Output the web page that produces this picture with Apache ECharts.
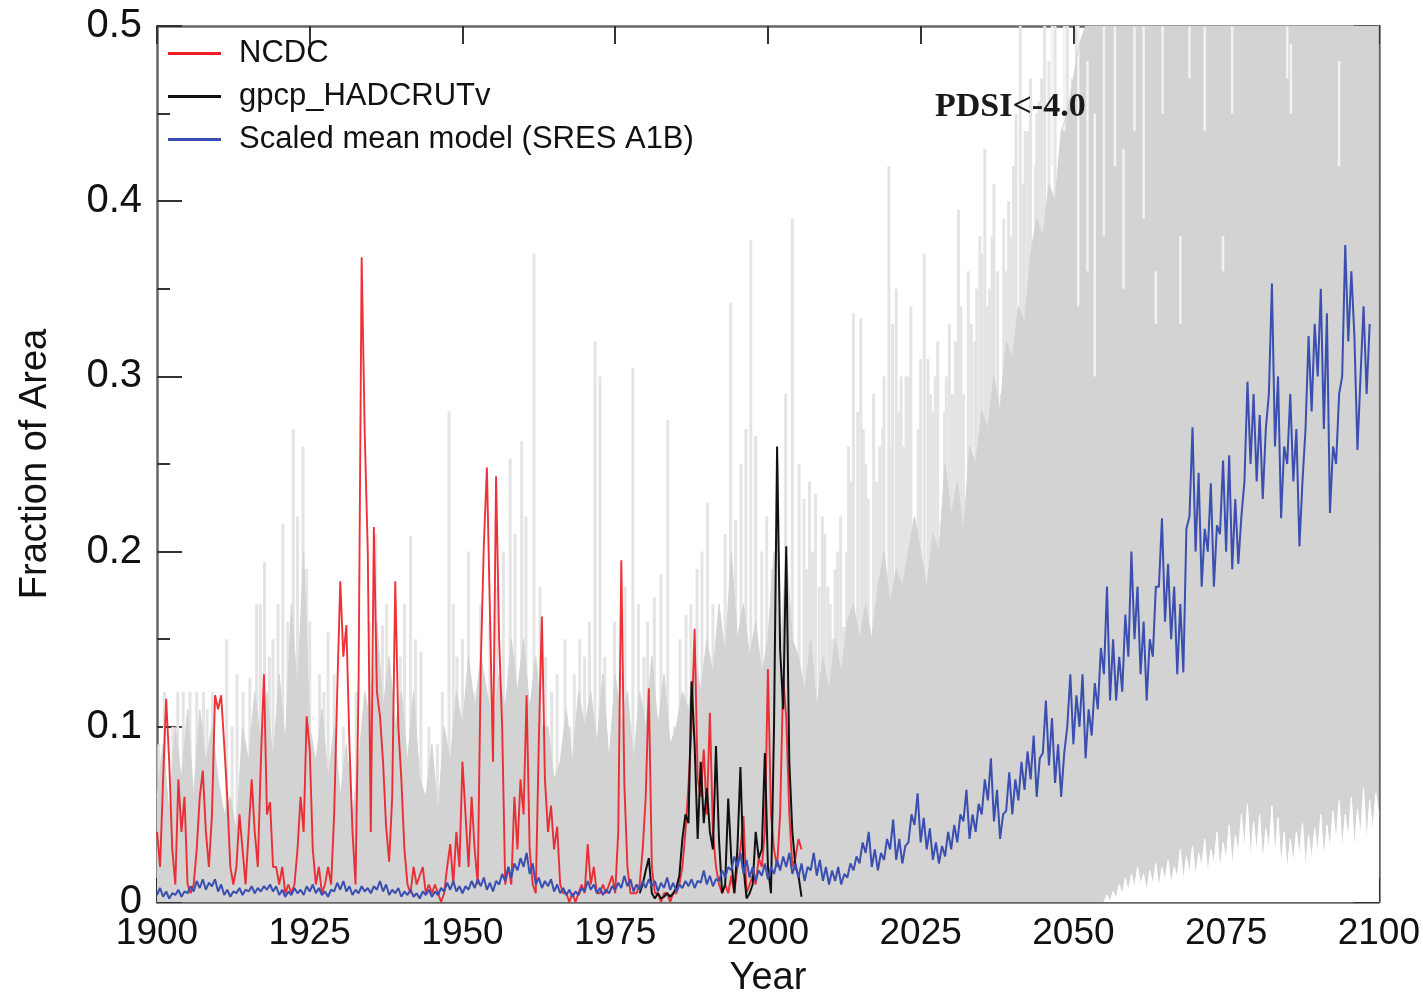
<!DOCTYPE html>
<html><head><meta charset="utf-8">
<script src="https://cdn.jsdelivr.net/npm/echarts@6/dist/echarts.min.js"></script>
<style>html,body{margin:0;padding:0;background:#fff}#c{width:1423px;height:1003px}</style>
</head><body><div id="c"></div>
<script>
// ---------- data ----------
const seriesNames = ['NCDC', 'gpcp_HADCRUTv', 'Scaled mean model (SRES A1B)'];
const xTicks = [1900, 1925, 1950, 1975, 2000, 2025, 2050, 2075, 2100];
const yTicks = [0, 0.1, 0.2, 0.3, 0.4, 0.5];

// NCDC observed fraction, half-year steps from 1900.0
const ncdcStart = 1900, halfStep = 0.5;
const ncdcValues = [
0.04,0.02,0.07,0.116,0.08,0.03,0.01,0.07,0.04,0.06,
0.01,0.005,0.01,0.03,0.06,0.075,0.04,0.02,0.05,0.118,
0.11,0.118,0.09,0.06,0.02,0.01,0.02,0.05,0.03,0.01,
0.04,0.07,0.04,0.02,0.08,0.13,0.05,0.057,0.02,0.02,
0.01,0.02,0.005,0.01,0.005,0.01,0.03,0.06,0.04,0.106,
0.087,0.03,0.01,0.02,0.005,0.01,0.02,0.01,0.05,0.12,
0.183,0.14,0.158,0.09,0.04,0.01,0.126,0.368,0.268,0.2,
0.04,0.214,0.12,0.106,0.08,0.043,0.023,0.06,0.183,0.1,
0.07,0.03,0.01,0.005,0.02,0.01,0.015,0.02,0.005,0.01,
0.005,0.01,0.005,0,0.005,0.02,0.033,0.01,0.04,0.02,
0.08,0.05,0.02,0.06,0.03,0.01,0.136,0.204,0.248,0.165,
0.08,0.243,0.15,0.1,0.01,0.02,0.01,0.06,0.03,0.07,
0.05,0.118,0.03,0.01,0.005,0.092,0.163,0.07,0.04,0.055,
0.03,0.043,0.01,0.005,0.005,0,0.005,0,0.005,0.01,
0.005,0.033,0.01,0.02,0.005,0.005,0.01,0.005,0.01,0.015,
0.005,0.04,0.195,0.067,0.02,0.005,0.005,0.005,0.01,0.03,
0.06,0.122,0.02,0.005,0.005,0,0.005,0.005,0,0.005,
0.005,0.01,0.02,0.04,0.067,0.1,0.156,0.07,0.06,0.087,
0.05,0.108,0.04,0.02,0.01,0.005,0.01,0.005,0.015,0.005,
0.02,0.03,0.049,0.005,0.01,0.015,0.01,0.025,0.02,0.04,
0.133,0.05,0.03,0.02,0.05,0.128,0.105,0.05,0.02,0.025,
0.036,0.03
];

// gpcp_HADCRUTv, half-year steps from 1979.0
const gpcpStart = 1979;
const gpcpValues = [
0.005,0.01,0.018,0.025,0.005,0.002,0.005,0.002,0.003,0.005,
0.003,0.005,0.008,0.015,0.036,0.05,0.045,0.126,0.09,0.036,
0.08,0.045,0.065,0.04,0.03,0.089,0.035,0.005,0.01,0.059,
0.025,0.005,0.03,0.077,0.02,0.002,0.005,0.01,0.04,0.025,
0.03,0.085,0.02,0.005,0.1,0.26,0.144,0.11,0.203,0.08,
0.04,0.02,0.015,0.003
];

// Scaled mean model, half-year steps from 1900.0
const modelStart = 1900;
const modelValues = [
0.004,0.008,0.003,0.006,0.002,0.005,0.004,0.007,0.003,0.006,
0.005,0.009,0.006,0.012,0.008,0.013,0.007,0.011,0.009,0.013,
0.006,0.01,0.004,0.007,0.003,0.006,0.005,0.008,0.004,0.007,
0.006,0.009,0.005,0.008,0.006,0.009,0.007,0.01,0.006,0.009,
0.004,0.007,0.003,0.006,0.004,0.008,0.005,0.007,0.004,0.009,
0.006,0.01,0.005,0.008,0.004,0.006,0.003,0.007,0.006,0.011,
0.007,0.012,0.006,0.009,0.004,0.007,0.005,0.009,0.006,0.008,
0.005,0.009,0.007,0.012,0.006,0.01,0.004,0.007,0.005,0.008,
0.003,0.006,0.004,0.007,0.003,0.005,0.002,0.006,0.004,0.007,
0.003,0.006,0.004,0.008,0.006,0.011,0.007,0.012,0.006,0.009,
0.005,0.009,0.007,0.012,0.008,0.013,0.009,0.014,0.007,0.011,
0.006,0.012,0.01,0.016,0.012,0.02,0.014,0.022,0.018,0.025,
0.02,0.028,0.016,0.022,0.01,0.014,0.008,0.012,0.009,0.013,
0.006,0.01,0.005,0.008,0.004,0.007,0.003,0.006,0.004,0.008,
0.006,0.012,0.007,0.01,0.005,0.008,0.004,0.007,0.005,0.009,
0.007,0.011,0.008,0.015,0.009,0.013,0.006,0.01,0.007,0.012,
0.008,0.013,0.009,0.012,0.006,0.011,0.008,0.014,0.007,0.011,
0.006,0.01,0.008,0.012,0.009,0.013,0.008,0.012,0.011,0.018,
0.01,0.015,0.009,0.013,0.012,0.018,0.014,0.02,0.018,0.026,
0.02,0.028,0.016,0.024,0.014,0.02,0.012,0.018,0.015,0.022,
0.013,0.02,0.016,0.024,0.018,0.026,0.02,0.028,0.016,0.022,
0.014,0.022,0.012,0.02,0.018,0.028,0.015,0.024,0.012,0.02,
0.01,0.018,0.012,0.02,0.01,0.016,0.014,0.022,0.018,0.026,
0.022,0.034,0.028,0.04,0.02,0.03,0.018,0.028,0.024,0.036,
0.03,0.047,0.024,0.036,0.022,0.032,0.034,0.05,0.044,0.062,
0.034,0.048,0.03,0.042,0.024,0.034,0.022,0.032,0.026,0.04,
0.03,0.044,0.034,0.05,0.046,0.064,0.036,0.05,0.04,0.056,
0.05,0.07,0.058,0.082,0.046,0.064,0.036,0.05,0.052,0.074,
0.05,0.07,0.058,0.08,0.064,0.086,0.07,0.095,0.06,0.082,
0.085,0.115,0.078,0.105,0.068,0.09,0.06,0.085,0.1,0.13,
0.09,0.118,0.1,0.13,0.082,0.11,0.095,0.125,0.11,0.145,
0.13,0.18,0.115,0.15,0.115,0.14,0.12,0.164,0.14,0.2,
0.15,0.18,0.13,0.16,0.115,0.15,0.14,0.18,0.18,0.219,
0.16,0.193,0.15,0.18,0.13,0.17,0.131,0.213,0.22,0.271,
0.2,0.245,0.18,0.213,0.2,0.239,0.18,0.215,0.21,0.252,
0.2,0.255,0.19,0.23,0.193,0.22,0.24,0.297,0.25,0.29,
0.24,0.278,0.23,0.27,0.29,0.353,0.26,0.3,0.219,0.26,
0.25,0.29,0.24,0.27,0.203,0.24,0.27,0.323,0.28,0.33,
0.3,0.35,0.27,0.336,0.222,0.26,0.25,0.29,0.3,0.375,
0.32,0.36,0.323,0.258,0.3,0.34,0.29,0.33
];

// Model ensemble: solid (darker) spread upper edge, annual from 1900
const spreadStart = 1900, yearStep = 1;
const spreadTop = [
0.06,0.09,0.05,0.1,0.07,0.11,0.06,0.11,0.08,0.1,
0.07,0.05,0.06,0.04,0.1,0.08,0.12,0.09,0.12,0.08,
0.13,0.09,0.17,0.12,0.2,0.1,0.08,0.11,0.07,0.1,
0.06,0.09,0.05,0.08,0.12,0.1,0.16,0.11,0.14,0.1,
0.12,0.08,0.12,0.07,0.06,0.09,0.05,0.1,0.08,0.12,
0.1,0.14,0.11,0.14,0.12,0.1,0.13,0.11,0.15,0.12,
0.15,0.11,0.14,0.1,0.1,0.07,0.08,0.11,0.08,0.12,
0.1,0.12,0.09,0.13,0.08,0.13,0.1,0.12,0.08,0.12,
0.1,0.14,0.1,0.13,0.09,0.1,0.12,0.11,0.14,0.12,
0.15,0.13,0.17,0.14,0.2,0.15,0.17,0.14,0.16,0.13,
0.15,0.2,0.14,0.2,0.15,0.14,0.12,0.15,0.11,0.14,
0.12,0.15,0.13,0.16,0.17,0.15,0.17,0.15,0.18,0.2,
0.17,0.19,0.18,0.2,0.22,0.2,0.18,0.21,0.2,0.25,
0.22,0.24,0.21,0.26,0.25,0.28,0.27,0.3,0.28,0.32,
0.31,0.34,0.33,0.37,0.39,0.38,0.41,0.4,0.44,0.45,
0.47,0.49,0.5,0.5,0.5,0.5,0.5,0.5,0.5,0.5,
0.5,0.5,0.5,0.5,0.5,0.5,0.5,0.5,0.5,0.5,
0.5,0.5,0.5,0.5,0.5,0.5,0.5,0.5,0.5,0.5,
0.5,0.5,0.5,0.5,0.5,0.5,0.5,0.5,0.5,0.5,
0.5,0.5,0.5,0.5,0.5,0.5,0.5,0.5,0.5,0.5,
0.5
];

// Model ensemble: individual high months (light spikes)
const spikeYears = [
1900.3,1901.2,1902.6,1903.4,1904.3,1905.4,1906.5,1907.6,1908.2,1909.1,1911.4,1912.3,1913.1,1914.1,1915.2,1916.3,1916.9,1917.6,1918.4,1919.0,
1919.8,1920.6,1921.4,1922.3,1923.0,1923.9,1924.5,1925.0,1926.6,1927.3,1928.0,1929.0,1930.5,1931.5,1932.6,1934.8,1935.8,1936.9,1937.6,1938.3,
1939.8,1940.5,1941.5,1942.3,1943.2,1944.5,1945.9,1946.7,1947.8,1948.5,1949.1,1950.0,1951.0,1951.8,1953.0,1954.5,1955.6,1956.7,1957.8,1958.6,
1959.7,1960.4,1961.7,1962.7,1963.6,1964.6,1965.5,1966.8,1967.6,1968.3,1969.2,1970.0,1970.8,1971.7,1972.5,1973.3,1974.9,1975.8,1976.6,1977.9,
1978.8,1979.7,1980.3,1981.4,1982.5,1983.6,1984.7,1985.6,1986.6,1987.4,1988.4,1989.2,1990.1,1991.0,1992.0,1993.0,1993.9,1994.7,1995.6,1996.4,
1997.2,1998.0,1999.0,1999.8,2000.7,2001.6,2002.9,2004.0,2005.1,2005.9,2006.8,2007.8,2008.9,2009.8,2010.6,2011.4,2012.4,2013.2,2014.0,2014.7,
2015.2,2016.0,2016.4,2017.3,2018.3,2019.0,2019.8,2020.4,2021.0,2021.8,2022.6,2023.4,2024.1,2025.0,2025.6,2026.2,2027.0,2027.8,2028.4,2029.2,
2030.2,2031.2,2032.0,2032.8,2033.9,2034.7,2035.5,2036.3,2037.0,2038.2,2039.0,2039.8,2040.6,2041.3,2042.1,2043.0,2043.8,2044.4,2045.3,2046.0,
2047.0,2048.1,2049.0,2049.8,2050.5,
2006.3,2007.3,2008.4,2009.3,2010.2,2011.0,2011.9,2012.9,2013.6,2015.6,2017.8,2018.8,2020.0,2021.4,2022.2,2023.0,2024.6,2026.6,2027.4,2028.9,
2029.7,2030.7,2031.6,2033.3,2034.2,2035.0,2035.9,2036.7,2037.6,2038.6,2039.4,2040.2,2041.7,2042.6,2044.0,2044.8
];
const spikeTops = [
0.09,0.12,0.1,0.12,0.12,0.12,0.12,0.12,0.11,0.12,0.15,0.1,0.13,0.12,0.128,0.17,0.17,0.194,0.14,0.15,
0.17,0.216,0.16,0.27,0.22,0.26,0.19,0.16,0.13,0.12,0.154,0.13,0.1,0.08,0.12,0.16,0.21,0.158,0.17,0.11,
0.14,0.17,0.209,0.15,0.143,0.1,0.09,0.12,0.28,0.17,0.14,0.15,0.2,0.12,0.17,0.16,0.18,0.2,0.253,0.21,
0.263,0.22,0.37,0.18,0.14,0.12,0.13,0.15,0.1,0.13,0.15,0.14,0.16,0.32,0.3,0.14,0.16,0.13,0.18,0.305,
0.17,0.14,0.16,0.174,0.187,0.275,0.1,0.15,0.164,0.17,0.19,0.2,0.228,0.17,0.14,0.21,0.342,0.218,0.25,0.27,
0.378,0.266,0.2,0.22,0.19,0.25,0.29,0.39,0.25,0.23,0.24,0.233,0.22,0.18,0.15,0.2,0.157,0.26,0.336,0.28,
0.333,0.25,0.23,0.29,0.26,0.3,0.42,0.33,0.35,0.3,0.3,0.34,0.18,0.31,0.37,0.31,0.28,0.32,0.16,0.3,
0.29,0.395,0.29,0.36,0.32,0.38,0.43,0.35,0.41,0.29,0.36,0.38,0.45,0.5,0.44,0.47,0.42,0.457,0.5,0.48,
0.5,0.415,0.5,0.47,0.5,
0.19,0.2,0.18,0.21,0.17,0.19,0.22,0.2,0.24,0.27,0.24,0.27,0.26,0.28,0.26,0.3,0.27,0.29,0.3,0.28,
0.33,0.32,0.34,0.33,0.35,0.37,0.34,0.38,0.36,0.39,0.4,0.42,0.41,0.44,0.45,0.47
];

// Lighter streaks inside the saturated spread (year, bottom, top)
const streakYears   = [2046.5,2048.5,2050.8,2052.3,2053.5,2055.0,2056.8,2058.2,2060.0,2061.5,2063.5,2064.6,2067.5,2069.0,2071.5,2074.5,2076.0,2085.0,2085.6,2093.5];
const streakBottoms = [0.42,0.44,0.34,0.36,0.3,0.38,0.42,0.35,0.44,0.39,0.33,0.45,0.33,0.47,0.44,0.36,0.45,0.47,0.45,0.42];
const streakTops    = [0.5,0.5,0.5,0.48,0.45,0.5,0.5,0.43,0.5,0.5,0.36,0.5,0.38,0.5,0.5,0.38,0.5,0.5,0.49,0.48];

// Lower edge of the spread (white gap below), half-year steps from 2055.0
const lowerStart = 2055;
const lowerEdge = [
0,0.004,0,0.006,0.002,0.01,0.004,0.014,0.006,0.016,
0.008,0.02,0.01,0.016,0.006,0.018,0.01,0.022,0.008,0.02,
0.012,0.024,0.01,0.02,0.014,0.03,0.012,0.026,0.016,0.032,
0.014,0.028,0.02,0.036,0.016,0.03,0.022,0.04,0.018,0.034,
0.024,0.044,0.02,0.038,0.028,0.05,0.03,0.056,0.024,0.046,
0.028,0.05,0.022,0.042,0.03,0.055,0.026,0.048,0.02,0.04,
0.018,0.036,0.022,0.04,0.026,0.045,0.02,0.038,0.024,0.042,
0.028,0.05,0.024,0.044,0.03,0.052,0.034,0.058,0.03,0.05,
0.036,0.06,0.03,0.053,0.038,0.065,0.034,0.058,0.04,0.062,
0.05
];

// ---------- build ----------
const pairs = (start, step, vals) => vals.map((v, i) => [start + i * step, v]);
function vline(color, width) {
  return function (params, api) {
    const p0 = api.coord([api.value(0), api.value(1)]);
    const p1 = api.coord([api.value(0), api.value(2)]);
    return { type: 'line', shape: { x1: p0[0], y1: p0[1], x2: p1[0], y2: p1[1] },
             style: { stroke: color, lineWidth: width } };
  };
}
const FONT = '"Liberation Sans", Arial, sans-serif';
const frame = { show: true, onZero: false, lineStyle: { color: '#666', width: 2.5 } };

const chart = echarts.init(document.getElementById('c'));
chart.setOption({
  animation: false,
  backgroundColor: '#fff',
  grid: { left: 157, right: 39, top: 26, bottom: 100 },
  legend: {
    data: seriesNames, left: 163, top: 33, orient: 'vertical',
    icon: 'rect', itemWidth: 53, itemHeight: 3, itemGap: 12,
    textStyle: { fontSize: 31, color: '#111', fontFamily: FONT, padding: [0, 0, 0, 13] }
  },
  graphic: [{ type: 'text', left: 935, top: 90, z: 100,
    style: { text: 'PDSI<-4.0', font: 'bold 34px "Liberation Serif", "Times New Roman", serif', fill: '#1a1a1a' } }],
  xAxis: [
    { type: 'value', min: xTicks[0], max: xTicks[xTicks.length - 1], interval: 25, position: 'bottom',
      axisLine: frame, axisTick: { inside: true, length: 24, lineStyle: { color: '#333', width: 2 } },
      axisLabel: { fontSize: 37, color: '#111', fontFamily: FONT, margin: 13, formatter: v => String(v) },
      splitLine: { show: false },
      name: 'Year', nameLocation: 'middle', nameGap: 58,
      nameTextStyle: { fontSize: 38, color: '#111', fontFamily: FONT } },
    { type: 'value', min: xTicks[0], max: xTicks[xTicks.length - 1], interval: 25, position: 'top',
      axisLine: frame, axisTick: { inside: true, length: 18, lineStyle: { color: '#333', width: 2 } },
      axisLabel: { show: false }, splitLine: { show: false } }
  ],
  yAxis: [
    { type: 'value', min: yTicks[0], max: yTicks[yTicks.length - 1], interval: 0.1, position: 'left',
      axisLine: frame, axisTick: { inside: true, length: 25, lineStyle: { color: '#333', width: 2 } },
      minorTick: { show: true, splitNumber: 2, length: 13, lineStyle: { color: '#333', width: 2 } },
      axisLabel: { fontSize: 40, color: '#111', fontFamily: FONT, margin: 15,
        formatter: v => (v === 0 ? '0' : v.toFixed(1)) },
      splitLine: { show: false },
      name: 'Fraction of Area', nameLocation: 'middle', nameGap: 102,
      nameTextStyle: { fontSize: 38, color: '#111', fontFamily: FONT } },
    { type: 'value', min: yTicks[0], max: yTicks[yTicks.length - 1], interval: 0.1, position: 'right',
      axisLine: frame, axisTick: { inside: true, length: 25, lineStyle: { color: '#333', width: 2 } },
      minorTick: { show: true, splitNumber: 2, length: 13, lineStyle: { color: '#333', width: 2 } },
      axisLabel: { show: false }, splitLine: { show: false } }
  ],
  series: [
    { name: 'spikes', type: 'custom', silent: true, clip: true, z: 1,
      renderItem: vline('#e4e4e4', 3), encode: { x: 0, y: [1, 2] },
      data: spikeYears.map((y, i) => [y, 0, spikeTops[i]]) },
    { name: 'spread', type: 'line', silent: true, symbol: 'none', z: 1,
      lineStyle: { color: '#d3d3d3', width: 1 }, areaStyle: { color: '#d3d3d3', opacity: 1 },
      data: pairs(spreadStart, yearStep, spreadTop) },
    { name: 'streaks', type: 'custom', silent: true, clip: true, z: 1,
      renderItem: vline('#f2f2f2', 2.5), encode: { x: 0, y: [1, 2] },
      data: streakYears.map((y, i) => [y, streakBottoms[i], streakTops[i]]) },
    { name: 'lower', type: 'line', silent: true, symbol: 'none', z: 1,
      lineStyle: { color: '#ffffff', width: 1 }, areaStyle: { color: '#ffffff', opacity: 1 },
      data: pairs(lowerStart, halfStep, lowerEdge) },
    { name: seriesNames[0], type: 'line', symbol: 'none', color: '#ec1c24',
      lineStyle: { width: 1.9, opacity: 0.9 }, data: pairs(ncdcStart, halfStep, ncdcValues) },
    { name: seriesNames[1], type: 'line', symbol: 'none', color: '#111111',
      lineStyle: { width: 2 }, data: pairs(gpcpStart, halfStep, gpcpValues) },
    { name: seriesNames[2], type: 'line', symbol: 'none', color: '#3a4fb0',
      lineStyle: { width: 2 }, data: pairs(modelStart, halfStep, modelValues) }
  ]
});
</script></body></html>
